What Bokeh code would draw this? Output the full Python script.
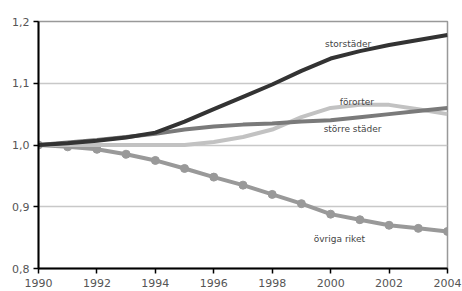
from bokeh.plotting import figure
from bokeh.embed import file_html
from bokeh.resources import INLINE
from bokeh.models import Range1d, CustomJSTickFormatter, FixedTicker, Label

years = list(range(1990, 2005))
storstader = [1.0, 1.003, 1.007, 1.012, 1.02, 1.038, 1.058, 1.078, 1.098, 1.12, 1.14, 1.152, 1.162, 1.17, 1.178]
fororter = [1.0, 1.0, 1.0, 1.0, 1.0, 1.0, 1.005, 1.013, 1.025, 1.045, 1.06, 1.065, 1.065, 1.058, 1.05]
storre_stader = [1.0, 1.004, 1.008, 1.013, 1.018, 1.025, 1.03, 1.033, 1.035, 1.038, 1.04, 1.045, 1.05, 1.055, 1.06]
ovriga_riket = [1.0, 0.997, 0.993, 0.985, 0.975, 0.962, 0.948, 0.935, 0.92, 0.905, 0.888, 0.879, 0.87, 0.865, 0.86]
x_ticks = list(range(1990, 2005, 2))
y_ticks = [0.8, 0.9, 1.0, 1.1, 1.2]

p = figure(width=462, height=291, output_backend="svg", toolbar_location=None,
           x_range=Range1d(1990, 2004), y_range=Range1d(0.8, 1.2),
           min_border_left=38, min_border_right=15, min_border_top=21, min_border_bottom=23)
p.outline_line_color = "#999999"
p.outline_line_width = 1.5
p.xgrid.visible = False
p.ygrid.grid_line_color = "#c8c8c8"
p.ygrid.grid_line_width = 1.5
p.xaxis.ticker = FixedTicker(ticks=x_ticks)
p.yaxis.ticker = FixedTicker(ticks=y_ticks)
p.yaxis.formatter = CustomJSTickFormatter(code="return tick.toFixed(1).replace('.', ',');")
for ax in (p.xaxis, p.yaxis):
    ax.axis_line_color = "black"
    ax.axis_line_width = 2
    ax.major_tick_line_color = "black"
    ax.major_tick_line_width = 1.5
    ax.major_tick_in = 0
    ax.major_tick_out = 5
    ax.minor_tick_line_color = None
    ax.major_label_text_font = "DejaVu Sans"
    ax.major_label_text_font_size = "11px"
    ax.major_label_text_color = "#555555"
p.yaxis.major_label_standoff = 4
p.xaxis.major_label_standoff = 5

p.line(years, ovriga_riket, line_color="#999999", line_width=4)
p.scatter(years, ovriga_riket, size=8, fill_color="#999999", line_color="#999999")
p.line(years, fororter, line_color="#c2c2c2", line_width=4)
p.line(years, storre_stader, line_color="#7a7a7a", line_width=4)
p.line(years, storstader, line_color="#333333", line_width=4)

labels = [("storstäder", 2000.6, 1.163), ("förorter", 2000.9, 1.069), ("större städer", 2000.75, 1.026), ("övriga riket", 2000.3, 0.847)]
for t, x, y in labels:
    p.add_layout(Label(x=x, y=y, text=t, text_font="DejaVu Sans", text_font_size="9px",
                       text_color="#444444", text_align="center", text_baseline="middle"))

open("out.html", "w").write(file_html(p, INLINE))
